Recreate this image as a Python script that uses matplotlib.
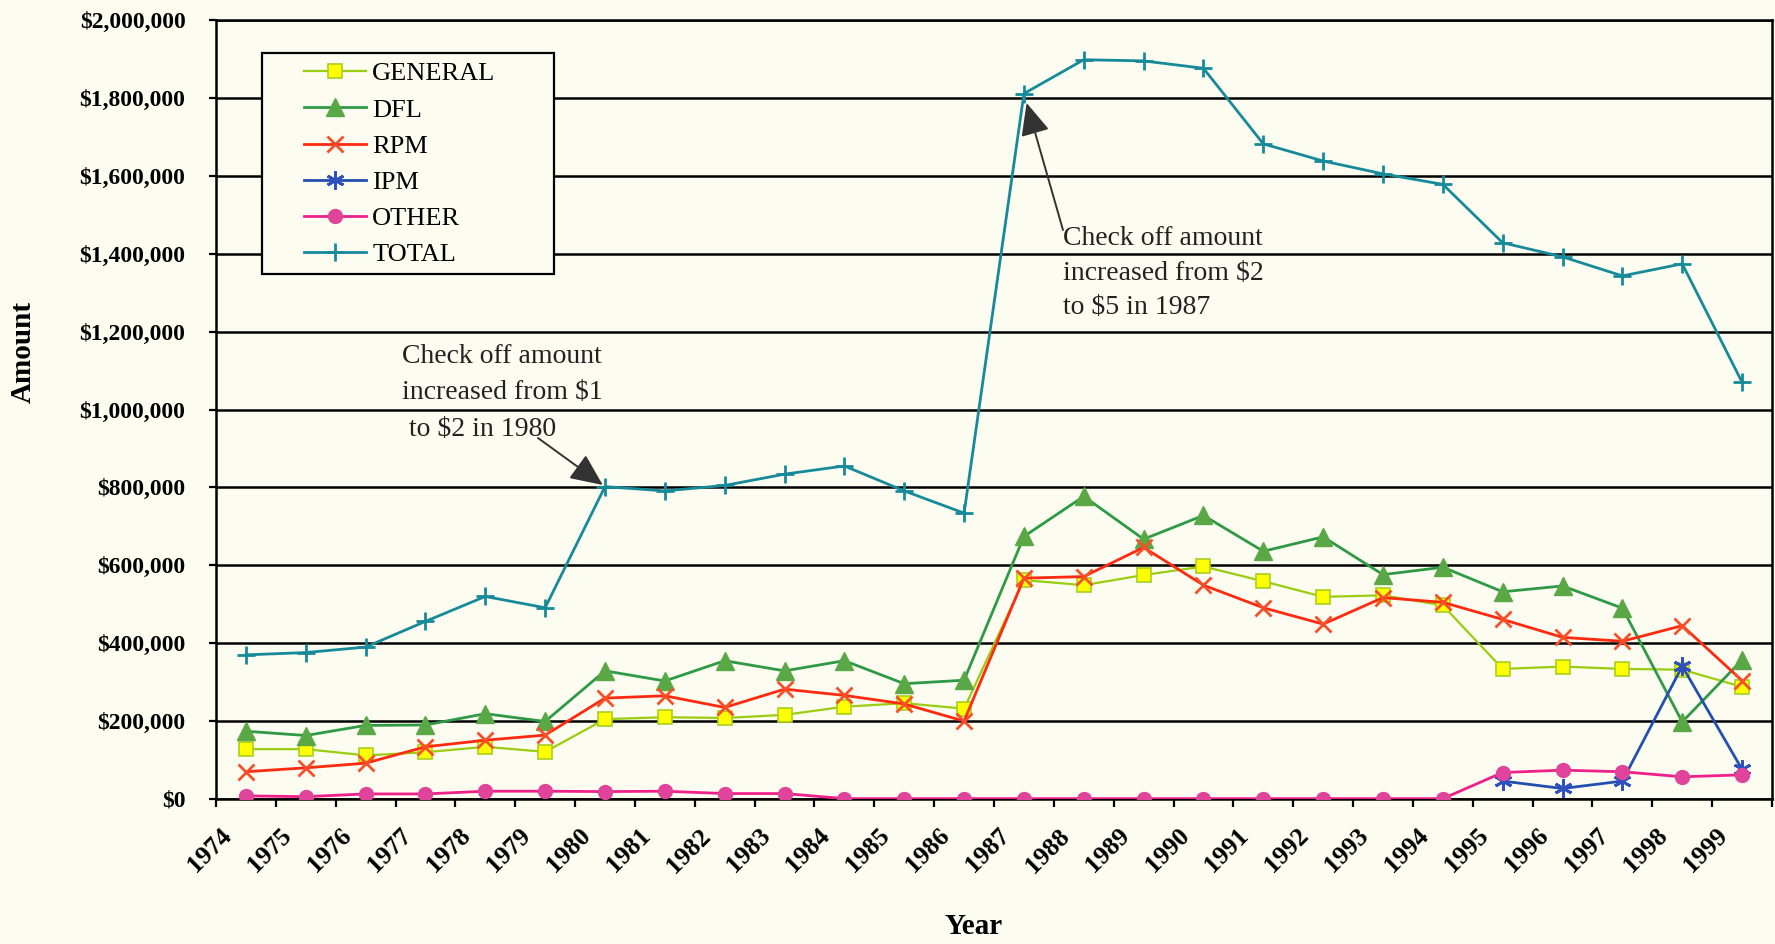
import numpy as np
import matplotlib
matplotlib.use("Agg")
import matplotlib.pyplot as plt
from matplotlib.ticker import FuncFormatter, FixedLocator
from matplotlib.transforms import ScaledTranslation
from matplotlib.patches import Rectangle

# data
years = [str(y) for y in range(1974, 2000)]

general = [128000, 128000, 112000, 120000, 134000, 121000, 205000, 210000, 208000, 216000,
           237000, 246000, 232000, 562000, 549000, 575000, 597000, 559000, 519000, 523000,
           497000, 334000, 340000, 334000, 332000, 288000]
dfl = [174000, 163000, 189000, 190000, 219000, 199000, 329000, 303000, 355000, 329000,
       355000, 296000, 305000, 674000, 777000, 667000, 728000, 636000, 673000, 576000,
       595000, 532000, 547000, 490000, 198000, 357000]
rpm = [70000, 80000, 92000, 134000, 151000, 164000, 259000, 265000, 235000, 282000,
       266000, 244000, 200000, 567000, 571000, 646000, 549000, 491000, 449000, 517000,
       505000, 461000, 415000, 405000, 445000, 304000]
ipm = [None] * 21 + [46000, 27000, 46000, 341000, 76000]
other = [8000, 6000, 13000, 13000, 20000, 20000, 19000, 20000, 14000, 14000,
         1000, 1000, 1000, 1000, 1000, 1000, 1000, 1000, 1000, 1000,
         1000, 68000, 74000, 70000, 57000, 62000]
total = [370000, 376000, 390000, 456000, 520000, 491000, 802000, 791000, 805000, 834000,
         855000, 791000, 734000, 1811000, 1898000, 1895000, 1876000, 1682000, 1638000, 1605000,
         1578000, 1428000, 1392000, 1343000, 1374000, 1070000]

bg = '#fcfcf0'
plt.rcParams['font.family'] = ['Liberation Serif', 'DejaVu Serif']

W, H = 1775, 944
fig = plt.figure(figsize=(W / 100, H / 100), dpi=100, facecolor=bg)
ax = fig.add_axes([216 / W, 1 - 799 / H, 1556 / W, 779 / H], facecolor=bg)

x = np.arange(len(years))
ipm_arr = np.array([np.nan if v is None else v for v in ipm], dtype=float)

ax.plot(x, general, color='#9acd10', lw=1.6, marker='s', ms=9.5, mfc='#ffff00', mec='#a8d020',
        mew=1.2, label='GENERAL', zorder=3)
ax.plot(x, dfl, color='#2e9a45', lw=2, marker='^', ms=12.5, mfc='#5aa845', mec='#5aa845',
        label='DFL', zorder=3)
ax.plot(x, rpm, color='#ff2a10', lw=2, marker='x', ms=12, mew=2, mec='#f5502a',
        label='RPM', zorder=3)
ax.plot(x, ipm_arr, color='#2350b0', lw=2, marker=(6, 2, 0), ms=13, mew=2, mec='#3050c0',
        label='IPM', zorder=3)
ax.plot(x, other, color='#f0208a', lw=2, marker='o', ms=10, mfc='#e0449a', mec='#e0449a',
        label='OTHER', zorder=3)
ax.plot(x, total, color='#178a9a', lw=2, marker='+', ms=13, mew=2, mec='#178a9a',
        label='TOTAL', zorder=3)

ax.set_xlim(-0.5, len(years) - 0.5)
ax.set_ylim(0, 2000000)
ax.set_yticks(np.arange(0, 2000001, 200000))
ax.yaxis.set_major_formatter(FuncFormatter(lambda v, p: '${:,.0f}'.format(v)))
ax.yaxis.grid(True, color='black', lw=1.8)
ax.set_axisbelow(True)
for s in ax.spines.values():
    s.set_color('black')
    s.set_linewidth(1.8)

ax.tick_params(axis='y', length=5, width=1.6, pad=17, labelsize=17)
for lab in ax.get_yticklabels():
    lab.set_fontweight('bold')

ax.set_xticks(x)
ax.set_xticklabels(years, rotation=45, ha='right', va='center', rotation_mode='anchor',
                   fontsize=18.5, fontweight='bold')
ax.xaxis.set_minor_locator(FixedLocator(np.arange(-0.5, len(years), 1)))
ax.tick_params(axis='x', which='major', length=0, pad=24)
ax.tick_params(axis='x', which='minor', length=6, width=1.6)
offset = ScaledTranslation(-18 / 100, 0, fig.dpi_scale_trans)
for lab in ax.get_xticklabels():
    lab.set_transform(lab.get_transform() + offset)

fig.text(23 / W, 1 - 352 / H, 'Amount', rotation=90, ha='center', va='center',
         fontsize=21, fontweight='bold')
fig.text(974 / W, 1 - 926 / H, 'Year', ha='center', va='center',
         fontsize=21, fontweight='bold')

# legend box drawn by hand, Excel style padding
box = Rectangle((262 / W, 1 - 274 / H), (554 - 262) / W, (274 - 53) / H,
                transform=fig.transFigure, facecolor=bg, edgecolor='black', lw=1.6,
                zorder=4, clip_on=False)
ax.add_patch(box)
leg = ax.legend(loc='upper left', bbox_to_anchor=(304 / W, 1 - 62 / H),
                bbox_transform=fig.transFigure, borderaxespad=0, borderpad=0,
                fontsize=19, frameon=False, handlelength=2.34, handletextpad=0.25,
                labelspacing=0.48)
leg.set_zorder(5)

# annotations
ax.text(402, H - 344, 'Check off amount\nincreased from $1\n to $2 in 1980',
        transform=None, fontsize=20, ha='left', va='top', linespacing=1.6, color='#222222')
ax.annotate('', xy=(6, 802000), xytext=(538, H - 438), textcoords='figure pixels',
            arrowprops=dict(arrowstyle='-|>,head_length=1.0,head_width=0.45',
                            mutation_scale=20, color='#333333', lw=1.4,
                            shrinkA=0, shrinkB=2))
ax.text(1063, H - 226, 'Check off amount\nincreased from $2\nto $5 in 1987',
        transform=None, fontsize=20, ha='left', va='top', linespacing=1.5, color='#222222')
ax.annotate('', xy=(13, 1811000), xytext=(1063, H - 230), textcoords='figure pixels',
            arrowprops=dict(arrowstyle='-|>,head_length=1.0,head_width=0.45',
                            mutation_scale=20, color='#333333', lw=1.4,
                            shrinkA=0, shrinkB=7))

fig.savefig('out.png', dpi=100, facecolor=bg)
